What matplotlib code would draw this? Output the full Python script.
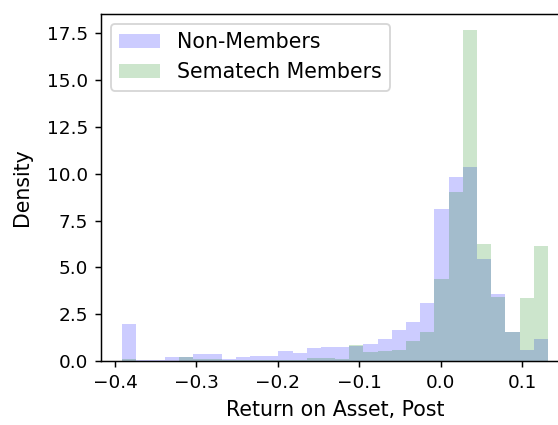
import numpy as np
import matplotlib
matplotlib.use("Agg")
import matplotlib.pyplot as plt

# Shared bin edges (30 bins)
bin_min = -0.391
bin_max = 0.1317
n_bins = 30

non_members = [2.0, 0.07, 0.07, 0.22, 0.2, 0.38, 0.38, 0.13, 0.2, 0.3,
               0.3, 0.52, 0.44, 0.68, 0.78, 0.78, 0.8, 0.92, 1.18, 1.65,
               2.07, 3.1, 8.1, 9.8, 10.35, 5.47, 3.6, 1.55, 0.6, 1.2]

members = [0.12, 0.0, 0.0, 0.0, 0.22, 0.1, 0.1, 0.07, 0.07, 0.07,
           0.07, 0.07, 0.07, 0.18, 0.18, 0.12, 0.85, 0.48, 0.56, 0.6,
           1.08, 1.55, 4.4, 9.0, 17.65, 6.25, 3.42, 1.58, 3.37, 6.15]

labels = ["Non-Members", "Sematech Members"]
x_label = "Return on Asset, Post"
y_label = "Density"

edges = np.linspace(bin_min, bin_max, n_bins + 1)
centers = (edges[:-1] + edges[1:]) / 2

dpi = 133
fig = plt.figure(figsize=(558 / dpi, 425 / dpi), dpi=dpi)
ax = fig.add_axes([0.181, 0.150, 0.839, 0.818])

ax.hist(centers, bins=edges, weights=non_members, histtype="stepfilled",
        alpha=0.2, color="blue", label=labels[0])
ax.hist(centers, bins=edges, weights=members, histtype="stepfilled",
        alpha=0.2, color="green", label=labels[1])

ax.tick_params(labelsize=10)
ax.set_xlabel(x_label, fontsize=11.1)
ax.set_ylabel(y_label, fontsize=11.1, labelpad=8)
ax.legend(loc="upper left", fontsize=11.1)

fig.savefig("out.png", dpi=dpi)
